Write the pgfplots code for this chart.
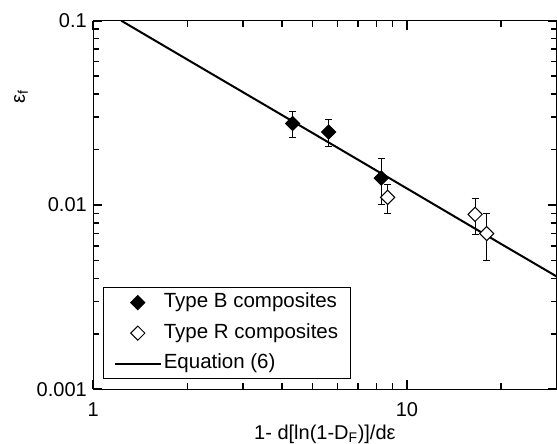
\documentclass[border=0pt]{standalone}
\usepackage{pgfplots}
\pgfplotsset{compat=1.18}
\usepackage{fontspec}
\setmainfont{Liberation Sans}

\begin{document}
\begin{tikzpicture}
\begin{axis}[
  name=ax,
  scale only axis,
  width=463.2bp, height=368.6bp,
  xmode=log, ymode=log,
  xmin=1, xmax=30, ymin=0.001, ymax=0.1,
  axis line style={line width=1bp},
  xtick pos=both, ytick pos=both,
  tick align=inside,
  major tick style={line width=1.8bp, draw=black},
  minor tick style={line width=1.6bp, draw=black},
  major tick length=9bp, minor tick length=6bp,
  xtick={1,10}, xticklabels={1,10},
  minor xtick={2,3,4,5,6,7,8,9,20,30},
  ytick={0.001,0.01,0.1}, yticklabels={0.001,0.01,0.1},
  minor ytick={0.002,0.003,0.004,0.005,0.006,0.007,0.008,0.009,
    0.02,0.03,0.04,0.05,0.06,0.07,0.08,0.09},
  every tick label/.append style={font=\fontsize{20bp}{24bp}\selectfont},
  xticklabel style={yshift=-10bp},
  yticklabel style={xshift=-3bp},
  xlabel={1- d[ln(1-D\textsubscript{F})]/dε},
  ylabel={ε\textsubscript{f}},
  label style={font=\fontsize{20bp}{24bp}\selectfont},
  xlabel style={yshift=-1bp},
  ylabel style={at={(axis description cs:-0.156,0.793)}, anchor=center},
  legend style={
    at={(axis description cs:0.0216,0.027)}, anchor=south west,
    draw=black, line width=1bp,
    font=\fontsize{20.5bp}{24bp}\selectfont,
    inner xsep=10bp, inner ysep=4bp,
    row sep=8bp,
    nodes={inner sep=2bp, text height=14.5bp, text depth=4bp},
  },
  legend cell align=left,
  legend image code/.code={%
    \draw[mark repeat=2,mark phase=2,#1] plot coordinates {(0bp,0bp) (23bp,0bp) (46bp,0bp)};},
]

% Type B composites
\addplot[only marks, mark=square*, mark size=5bp,
  mark options={rotate=45, fill=black, draw=black, line width=1bp},
  error bars/.cd, y dir=both, y explicit,
  error bar style={line width=1bp, black},
  error mark options={rotate=90, mark size=3.5bp, line width=1bp}]
  coordinates {
  (4.32, 0.0277) +- (0, 0.0044)
  (5.63, 0.0249) +- (0, 0.0042)
  (8.29, 0.0140) +- (0, 0.0039)
  };
\addlegendentry{Type B composites}

% Type R composites
\addplot[only marks, mark=square*, mark size=5bp,
  mark options={rotate=45, fill=white, draw=black, line width=1bp},
  error bars/.cd, y dir=both, y explicit,
  error bar style={line width=1bp, black},
  error mark options={rotate=90, mark size=3.5bp, line width=1bp}]
  coordinates {
  (8.68, 0.0110) +- (0, 0.0020)
  (16.5, 0.0089) +- (0, 0.0020)
  (17.97, 0.0070) +- (0, 0.0020)
  };
\addlegendentry{Type R composites}

% Equation (6)
\addplot[black, line width=2bp, mark=none] coordinates {
  (1.228, 0.1) (2, 0.0614) (5, 0.0246) (10, 0.0123) (20, 0.00614) (30, 0.0041)
};
\addlegendentry{Equation (6)}

\end{axis}
% fix the page to the reference's margins round the axis box
\path (ax.south west) ++(-93.3bp,-54.7bp) coordinate (bbl);
\path (ax.north east) ++(0.5bp,20.7bp) coordinate (bbr);
\pgfresetboundingbox
\path[use as bounding box] (bbl) rectangle (bbr);
\end{tikzpicture}
\end{document}
